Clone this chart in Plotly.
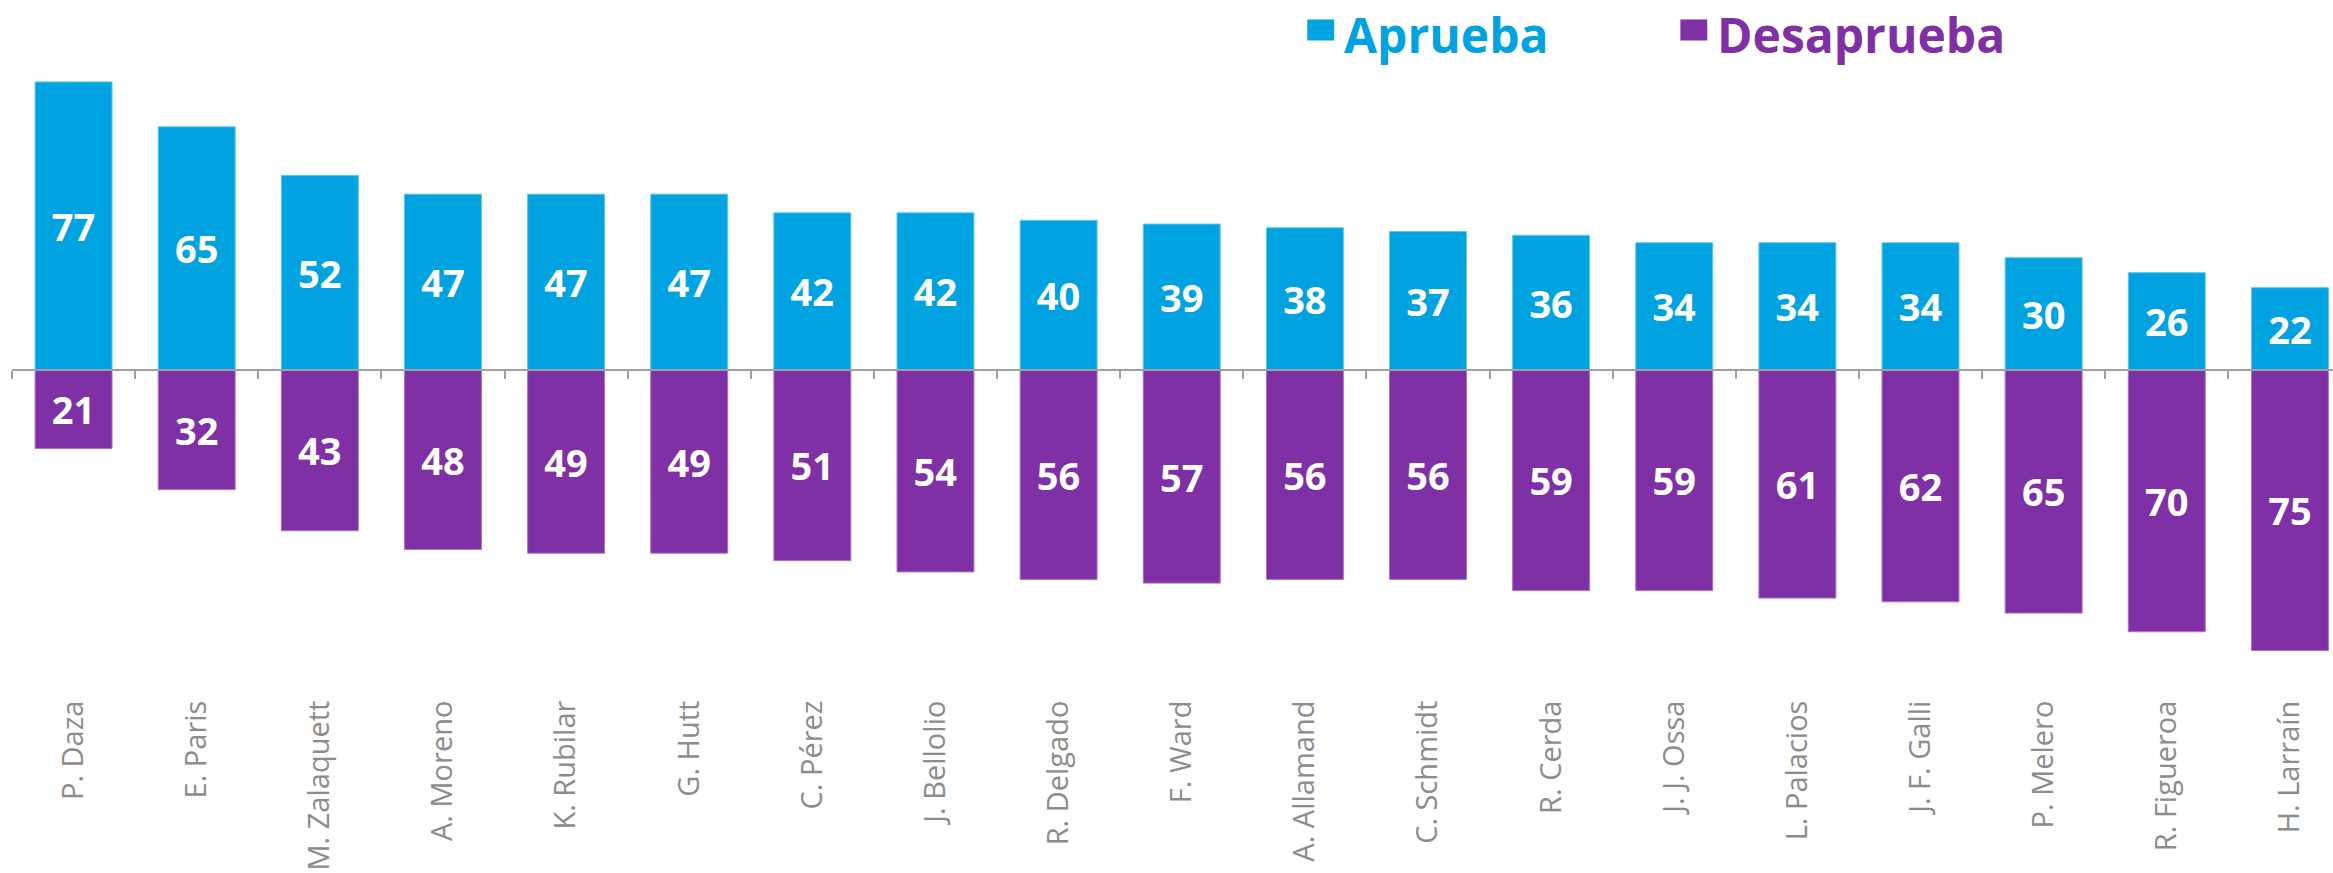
import plotly.graph_objects as go

names = ["P. Daza", "E. Paris", "M. Zalaquett", "A. Moreno", "K. Rubilar", "G. Hutt",
         "C. Pérez", "J. Bellolio", "R. Delgado", "F. Ward", "A. Allamand", "C. Schmidt",
         "R. Cerda", "J. J. Ossa", "L. Palacios", "J. F. Galli", "P. Melero", "R. Figueroa",
         "H. Larraín"]
aprueba = [77, 65, 52, 47, 47, 47, 42, 42, 40, 39, 38, 37, 36, 34, 34, 34, 30, 26, 22]
desaprueba = [21, 32, 43, 48, 49, 49, 51, 54, 56, 57, 56, 56, 59, 59, 61, 62, 65, 70, 75]

C_AP = "#00A3E0"
C_DE = "#7F30A4"
GRAY = "#A0A0A0"
LABEL_GRAY = "#8C8C8C"
BOLD_FONT = "Open Sans"

W, H = 2333, 873
MT, MB, ML, MR = 0, 193, 12, 0
YMAX, YMIN = 98.9, -82.9
XR = [-0.5, len(names) - 0.65]

fig = go.Figure()
fig.add_trace(go.Bar(
    x=names, y=aprueba, name="Aprueba",
    marker=dict(color=C_AP, line=dict(color="#5CC6EE", width=1)),
    text=[str(v) for v in aprueba], textposition="inside", insidetextanchor="middle",
    textangle=0, constraintext="none",
    textfont=dict(color="white", size=38, family=BOLD_FONT, weight=700),
    showlegend=False,
))
fig.add_trace(go.Bar(
    x=names, y=[-v for v in desaprueba], name="Desaprueba",
    marker=dict(color=C_DE, line=dict(color="#A874C2", width=1)),
    text=[str(v) for v in desaprueba], textposition="inside", insidetextanchor="middle",
    textangle=0, constraintext="none",
    textfont=dict(color="white", size=38, family=BOLD_FONT, weight=700),
    showlegend=False,
))
# invisible helper trace so the label axis (x2) is rendered
fig.add_trace(go.Scatter(
    x=list(range(len(names))), y=[0] * len(names), xaxis="x2", yaxis="y",
    mode="markers", marker=dict(opacity=0), hoverinfo="skip", showlegend=False,
))

zero_pos = (-YMIN) / (YMAX - YMIN)

fig.update_layout(
    width=W, height=H,
    margin=dict(l=ML, r=MR, t=MT, b=MB, pad=0),
    paper_bgcolor="white", plot_bgcolor="white",
    barmode="relative", bargap=0.375,
    xaxis=dict(
        type="category", range=XR, anchor="free", position=zero_pos,
        showline=True, linecolor=GRAY, linewidth=2,
        ticks="outside", tickson="boundaries", ticklen=8, tickwidth=2, tickcolor=GRAY,
        showticklabels=False, showgrid=False, zeroline=False,
    ),
    xaxis2=dict(
        overlaying="x", anchor="y", side="bottom", type="linear", range=XR,
        tickmode="array", tickvals=list(range(len(names))), ticktext=names,
        tickangle=-90, ticks="outside", ticklen=8, tickcolor="rgba(0,0,0,0)",
        tickfont=dict(color=LABEL_GRAY, size=29, family="Open Sans"),
        showline=False, showgrid=False, zeroline=False,
    ),
    yaxis=dict(range=[YMIN, YMAX], visible=False, showgrid=False, zeroline=False),
)

# legend (decorative): squares + coloured titles
legend_items = [("Aprueba", C_AP, 1302), ("Desaprueba", C_DE, 1677)]
for label, col, px in legend_items:
    fig.add_shape(type="rect", xref="paper", yref="paper",
                  x0=px / W, x1=(px + 27) / W, y0=1 - 52 / H, y1=1 - 25 / H,
                  fillcolor=col, line=dict(width=0))
    fig.add_annotation(xref="paper", yref="paper", x=(px + 36) / W, y=1 - 44 / H,
                       xanchor="left", yanchor="middle", showarrow=False,
                       borderpad=0, text=label,
                       font=dict(color=col, size=48, family=BOLD_FONT, weight=700))

fig.write_html("out.html", config={"displayModeBar": False},
               post_script="document.body.style.margin='0';document.body.style.overflow='hidden';")
